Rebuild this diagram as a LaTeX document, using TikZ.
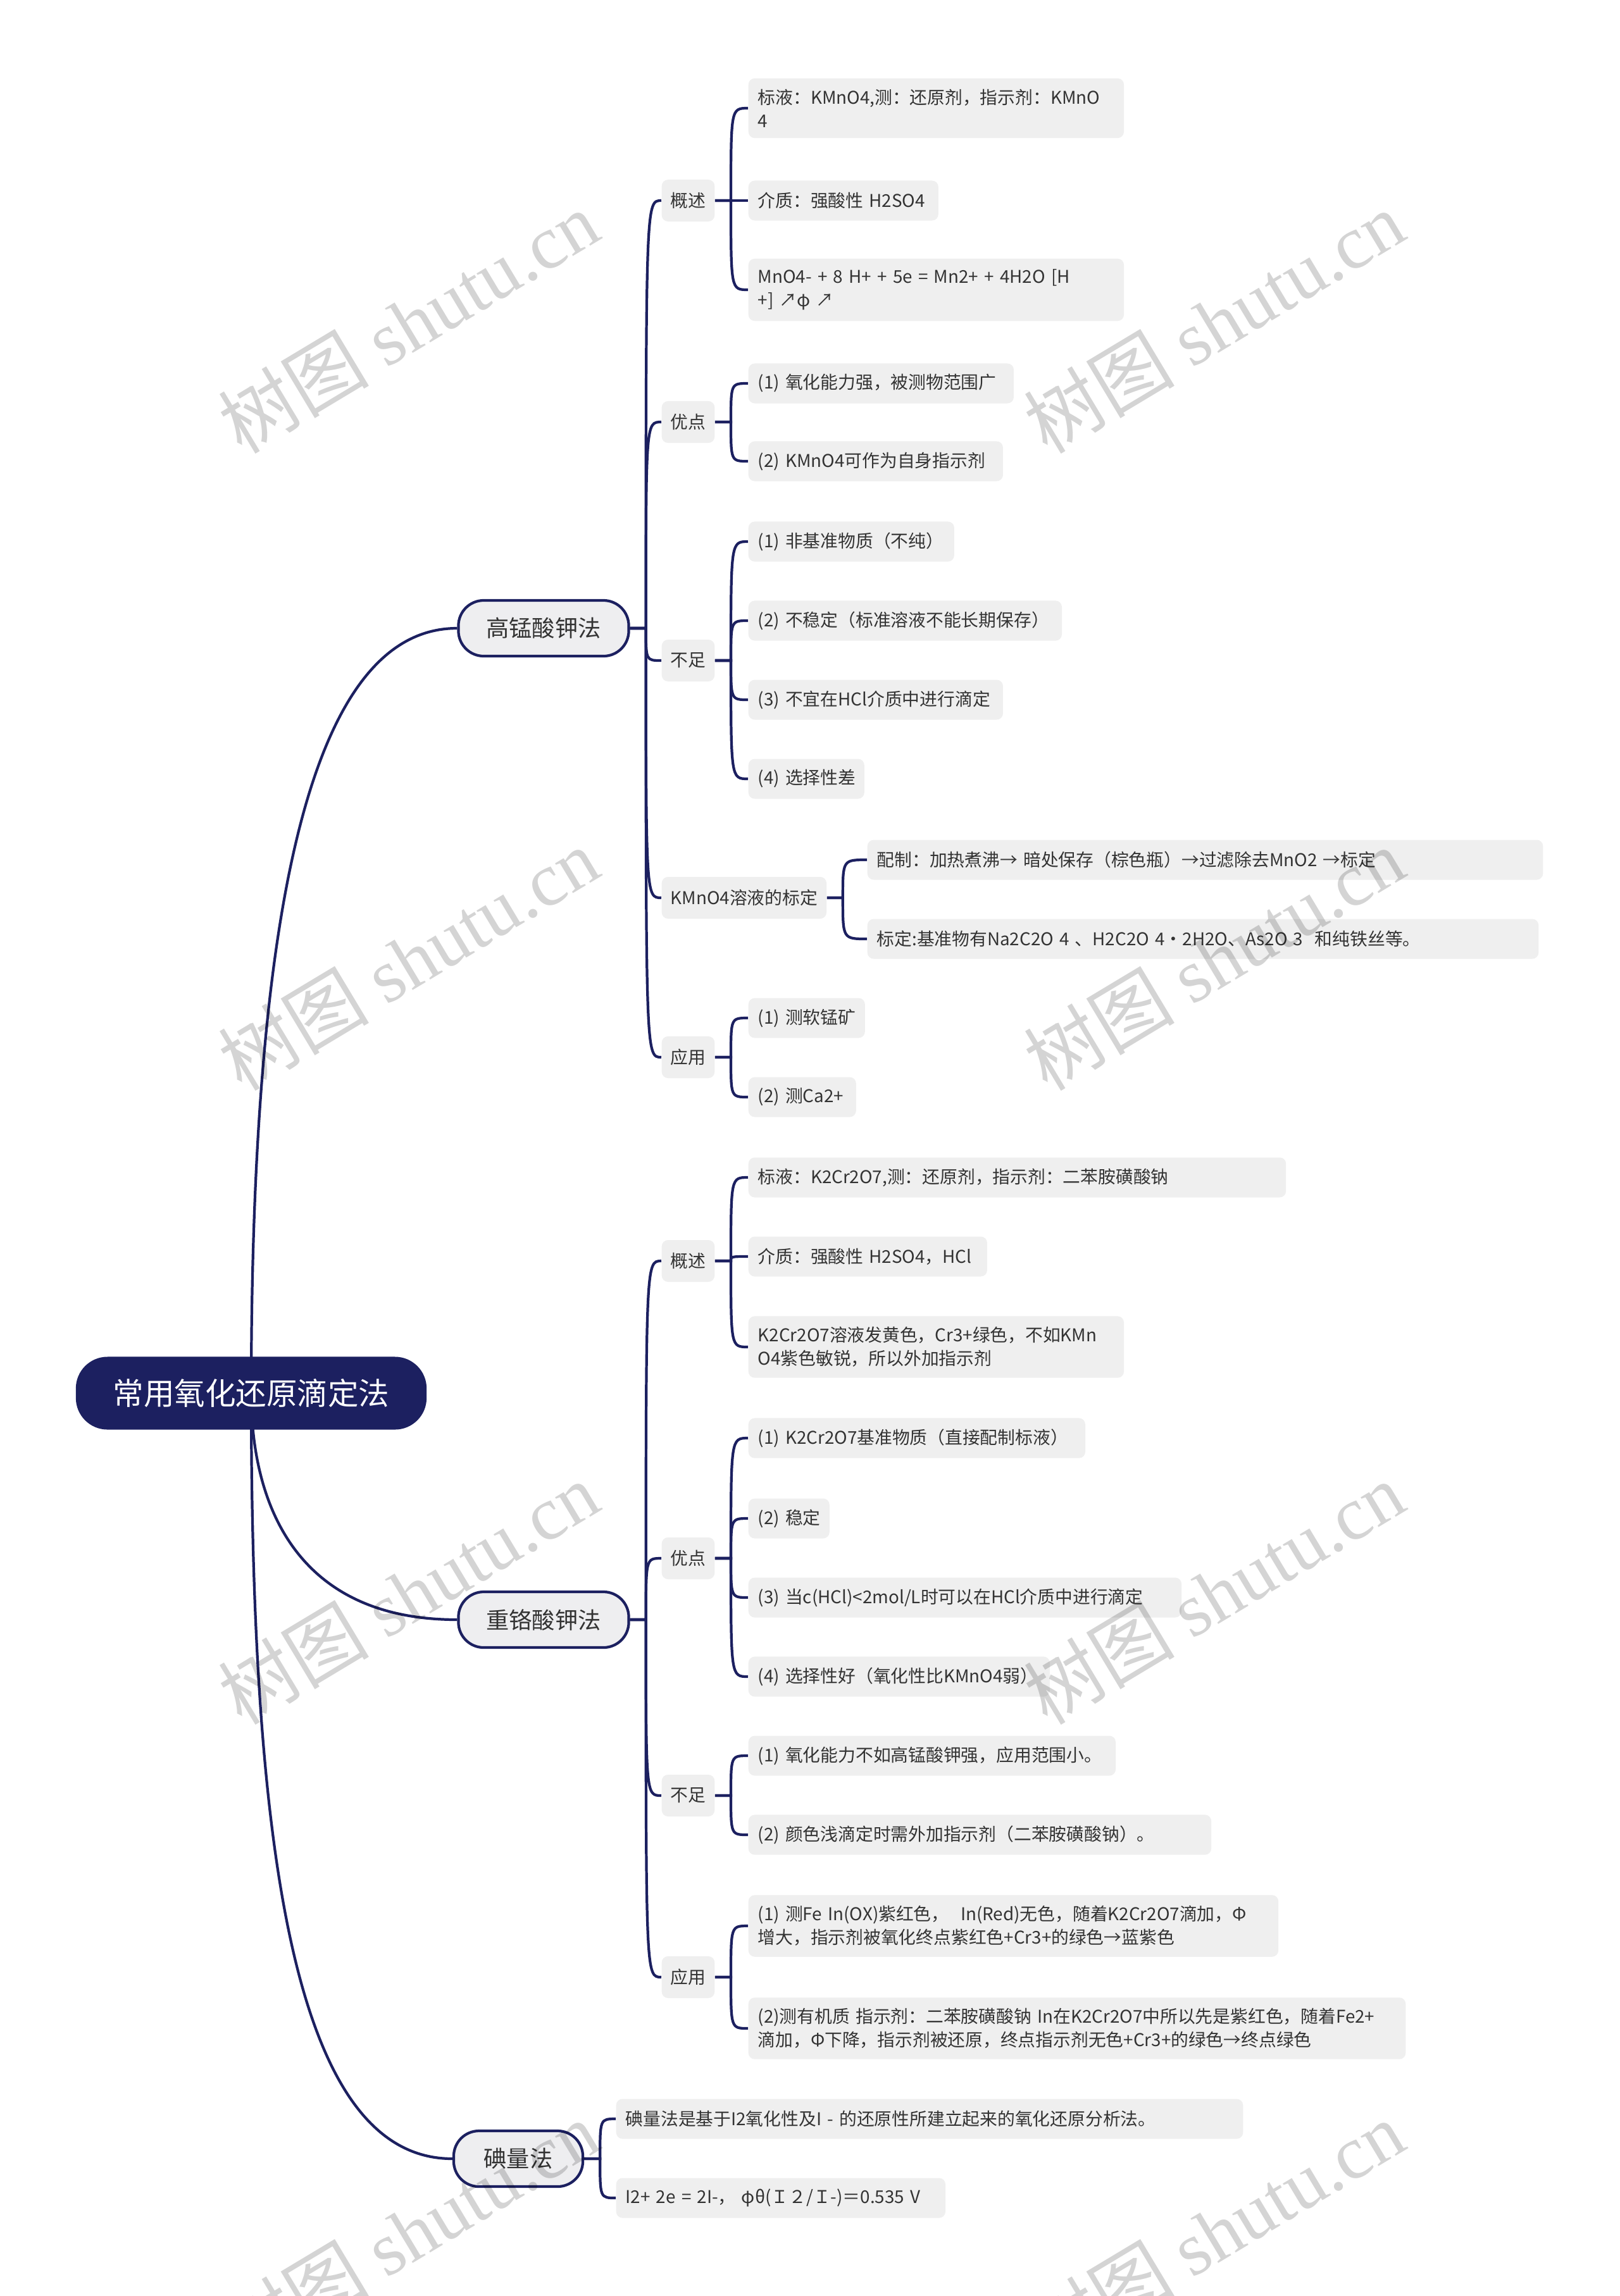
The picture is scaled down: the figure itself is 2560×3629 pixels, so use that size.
\documentclass[tikz,border=0pt]{standalone}
\usepackage{fontspec}
\setmainfont{Noto Sans CJK SC}
\newfontfamily\wmserif{Liberation Serif}
\usetikzlibrary{calc}
\definecolor{navy}{HTML}{1C2060}
\definecolor{boxgray}{HTML}{EFEFEF}
\definecolor{lvlgray}{HTML}{EEEEF0}
\definecolor{txt}{HTML}{333333}
\pgfdeclarelayer{bg}\pgfdeclarelayer{fg}\pgfsetlayers{bg,main,fg}
\newcommand{\oneln}[1]{\mbox{#1}}
\newcommand{\mmlink}[2]{\draw[conn] let \p1=(#1.east), \p2=(#2.west) in (\p1) -- (\x1+0.25cm,\y1) .. controls (\x1+0.25cm,\y2) .. (\p2);}
\tikzset{
 conn/.style={draw=navy, line width=1.2pt},
 rootbox/.style={fill=navy, text=white, rounded corners=0.5cm, minimum width=5.54cm, minimum height=1.15cm, font=\fontsize{13.8pt}{16pt}\selectfont, inner sep=0pt},
 mainbox/.style={fill=lvlgray, draw=navy, line width=1.2pt, rounded corners=0.4cm, minimum height=0.88cm, text=txt, font=\fontsize{10.3pt}{12pt}\selectfont, inner sep=0pt},
 subbox/.style={fill=boxgray, rounded corners=0.1cm, anchor=west, minimum height=0.66cm, inner xsep=0.14cm, inner ysep=0.1cm, text=txt, font=\fontsize{7.9pt}{10.5pt}\selectfont},
 leafbox/.style={fill=boxgray, rounded corners=0.1cm, anchor=west, minimum height=0.63cm, inner xsep=0.15cm, inner ysep=0.17cm, text width=#1, align=left, text=txt, font=\fontsize{7.9pt}{10.5pt}\selectfont},
 wmark/.style={rotate=31, text=black, opacity=0.17, font=\fontsize{34pt}{38pt}\selectfont},
}
\begin{document}
\begin{tikzpicture}[x=0.01cm,y=-0.01cm]
\useasboundingbox (0,0) rectangle (2560,3629);

% root and main branches
\node[rootbox] (root) at (397,2202) {常用氧化还原滴定法};
\node[mainbox, minimum width=2.69cm] (A) at (859,993) {高锰酸钾法};
\node[mainbox, minimum width=2.69cm] (B) at (859,2560) {重铬酸钾法};
\node[mainbox, minimum width=2.04cm] (C) at (819,3412) {碘量法};

% level 2
\node[subbox] (A1) at (1045,317) {概述};
\node[subbox] (A2) at (1045,667) {优点};
\node[subbox] (A3) at (1045,1044) {不足};
\node[subbox] (A4) at (1045,1419) {KMnO4溶液的标定};
\node[subbox] (A5) at (1045,1671) {应用};
\node[subbox] (B1) at (1045,1993) {概述};
\node[subbox] (B2) at (1045,2463) {优点};
\node[subbox] (B3) at (1045,2838) {不足};
\node[subbox] (B4) at (1045,3125) {应用};

% leaves of A
\node[leafbox=5.63cm] (A11) at (1182,171) {\oneln{标液：KMnO4,测：还原剂，指示剂：KMnO}\\\oneln{4}};
\node[leafbox=2.70cm] (A12) at (1182,317) {\oneln{介质：强酸性 H2SO4}};
\node[leafbox=5.63cm] (A13) at (1182,458) {\oneln{MnO4- + 8 H+ + 5e = Mn2+ + 4H2O [H}\\\oneln{+] ↗φ ↗}};
\node[leafbox=3.89cm] (A21) at (1182,606) {\oneln{(1) 氧化能力强，被测物范围广}};
\node[leafbox=3.72cm] (A22) at (1182,729) {\oneln{(2) KMnO4可作为自身指示剂}};
\node[leafbox=2.95cm] (A31) at (1182,856) {\oneln{(1) 非基准物质（不纯）}};
\node[leafbox=4.65cm] (A32) at (1182,981) {\oneln{(2) 不稳定（标准溶液不能长期保存）}};
\node[leafbox=3.72cm] (A33) at (1182,1106) {\oneln{(3) 不宜在HCl介质中进行滴定}};
\node[leafbox=1.53cm] (A34) at (1182,1231) {\oneln{(4) 选择性差}};
\node[leafbox=10.37cm] (A41) at (1370,1359) {\oneln{配制：加热煮沸→ 暗处保存（棕色瓶）→过滤除去MnO2 →标定}};
\node[leafbox=10.30cm] (A42) at (1370,1484) {\oneln{标定:基准物有Na2C2O 4 、H2C2O 4·2H2O、As2O 3 \ 和纯铁丝等。}};
\node[leafbox=1.54cm] (A51) at (1182,1609) {\oneln{(1) 测软锰矿}};
\node[leafbox=1.40cm] (A52) at (1182,1734) {\oneln{(2) 测Ca2+}};

% leaves of B
\node[leafbox=8.19cm] (B11) at (1182,1861) {\oneln{标液：K2Cr2O7,测：还原剂，指示剂：二苯胺磺酸钠}};
\node[leafbox=3.47cm] (B12) at (1182,1986) {\oneln{介质：强酸性 H2SO4，HCl}};
\node[leafbox=5.63cm] (B13) at (1182,2129) {\oneln{K2Cr2O7溶液发黄色，Cr3+绿色，不如KMn}\\\oneln{O4紫色敏锐，所以外加指示剂}};
\node[leafbox=5.02cm] (B21) at (1182,2273) {\oneln{(1) K2Cr2O7基准物质（直接配制标液）}};
\node[leafbox=0.98cm] (B22) at (1182,2400) {\oneln{(2) 稳定}};
\node[leafbox=6.54cm] (B23) at (1182,2525) {\oneln{(3) 当c(HCl)<2mol/L时可以在HCl介质中进行滴定}};
\node[leafbox=4.46cm] (B24) at (1182,2650) {\oneln{(4) 选择性好（氧化性比KMnO4弱）}};
\node[leafbox=5.50cm] (B31) at (1182,2775) {\oneln{(1) 氧化能力不如高锰酸钾强，应用范围小。}};
\node[leafbox=7.01cm] (B32) at (1182,2900) {\oneln{(2) 颜色浅滴定时需外加指示剂（二苯胺磺酸钠）。}};
\node[leafbox=8.07cm] (B41) at (1182,3044) {\oneln{(1) 测Fe In(OX)紫红色，\ \ In(Red)无色，随着K2Cr2O7滴加，Φ}\\\oneln{增大，指示剂被氧化终点紫红色+Cr3+的绿色→蓝紫色}};
\node[leafbox=10.08cm] (B42) at (1182,3206) {\oneln{(2)测有机质 指示剂：二苯胺磺酸钠 In在K2Cr2O7中所以先是紫红色，随着Fe2+}\\\oneln{滴加，Φ下降，指示剂被还原，终点指示剂无色+Cr3+的绿色→终点绿色}};

% leaves of C
\node[leafbox=9.60cm] (C1) at (973,3349) {\oneln{碘量法是基于I2氧化性及I - 的还原性所建立起来的氧化还原分析法。}};
\node[leafbox=4.90cm] (C2) at (973,3474) {\oneln{I2+ 2e = 2I-，\ φθ(Ｉ２/Ｉ-)＝0.535 V}};

\begin{pgfonlayer}{bg}
\fill[white] (0,0) rectangle (2560,3629);
\draw[conn] (root.center) .. controls (397,1400) and (500,993) .. (A.west);
\draw[conn] (root.center) .. controls (397,2380) and (470,2560) .. (B.west);
\draw[conn] (root.center) .. controls (397,2950) and (470,3412) .. (C.west);
\mmlink{A}{A1}\mmlink{A}{A2}\mmlink{A}{A3}\mmlink{A}{A4}\mmlink{A}{A5}
\mmlink{B}{B1}\mmlink{B}{B2}\mmlink{B}{B3}\mmlink{B}{B4}
\mmlink{C}{C1}\mmlink{C}{C2}
\mmlink{A1}{A11}\mmlink{A1}{A12}\mmlink{A1}{A13}
\mmlink{A2}{A21}\mmlink{A2}{A22}
\mmlink{A3}{A31}\mmlink{A3}{A32}\mmlink{A3}{A33}\mmlink{A3}{A34}
\mmlink{A4}{A41}\mmlink{A4}{A42}
\mmlink{A5}{A51}\mmlink{A5}{A52}
\mmlink{B1}{B11}\mmlink{B1}{B12}\mmlink{B1}{B13}
\mmlink{B2}{B21}\mmlink{B2}{B22}\mmlink{B2}{B23}\mmlink{B2}{B24}
\mmlink{B3}{B31}\mmlink{B3}{B32}
\mmlink{B4}{B41}\mmlink{B4}{B42}
\end{pgfonlayer}

\begin{pgfonlayer}{fg}
\node[wmark] (w1) at (645,509) {树图 {\wmserif shutu.cn}};
\node[wmark] (w2) at (1918,509) {树图 {\wmserif shutu.cn}};
\node[wmark] (w3) at (645,1516) {树图 {\wmserif shutu.cn}};
\node[wmark] (w4) at (1918,1516) {树图 {\wmserif shutu.cn}};
\node[wmark] (w5) at (645,2518) {树图 {\wmserif shutu.cn}};
\node[wmark] (w6) at (1918,2518) {树图 {\wmserif shutu.cn}};
\node[wmark] (w7) at (645,3528) {树图 {\wmserif shutu.cn}};
\node[wmark] (w8) at (1918,3528) {树图 {\wmserif shutu.cn}};
\end{pgfonlayer}
\end{tikzpicture}
\end{document}
